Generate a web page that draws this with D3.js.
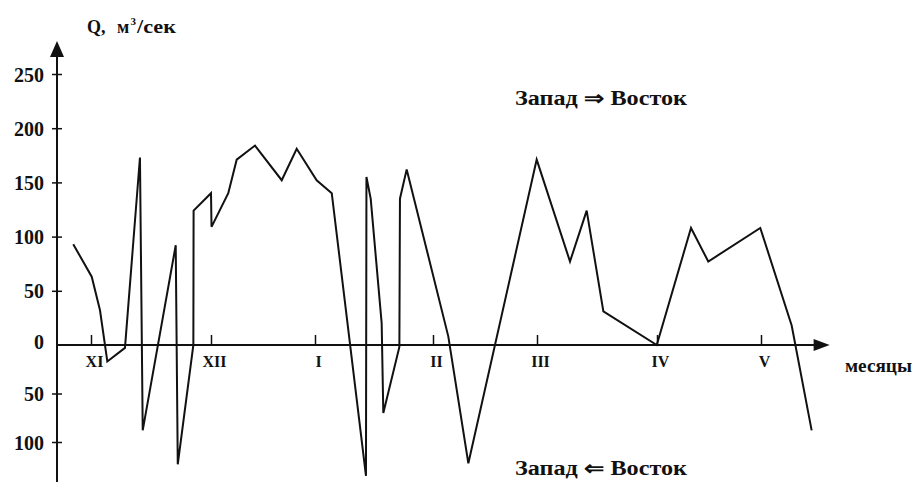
<!DOCTYPE html>
<html>
<head>
<meta charset="utf-8">
<script src="https://cdn.jsdelivr.net/npm/d3@7"></script>
<style>
	body { margin: 0; background: #fff; }
	svg { display: block; }
	text { font-family: "Liberation Serif", "Times New Roman", serif; font-weight: bold; fill: #111; }
</style>
</head>
<body>
<div id="chart"></div>
<script>
// month ticks (0 = XI ... 6 = V)
const months = ['XI', 'XII', 'I', 'II', 'III', 'IV', 'V'];
const yTicks = [-100, -50, 0, 50, 100, 150, 200, 250];

// position in months since XI, discharge Q (m3/s), positive = west to east
const tMonth = [
	-0.148, 0.006, 0.075, 0.136, 0.283, 0.408, 0.431, 0.706, 0.723, 0.853,
	0.855, 1.0, 1.005, 1.166, 1.247, 1.423, 1.680, 1.824, 2.014, 2.142,
	2.432, 2.436, 2.472, 2.565, 2.579, 2.715, 2.720, 2.777, 3.147, 3.340,
	3.997, 4.275, 4.414, 4.553, 4.998, 5.327, 5.493, 5.993, 6.295, 6.487
];
const qValue = [
	93, 63, 32, -17, -3, 173, -88, 92, -123, 0,
	124, 140, 109, 140, 171, 184, 152, 181, 152, 140,
	-135, 155, 135, 20, -70, -2, 135, 162, 8, -122,
	171, 77, 124, 31, 0, 108, 77, 108, 18, -88
];

const W = 917, H = 482;
const svg = d3.select('#chart').append('svg').attr('width', W).attr('height', H);

// month spacing on the drawing is not even, so the x scale is piecewise
const x = d3.scaleLinear().domain([0, 1, 2, 3, 4, 5, 6])
	.range([91, 211, 315, 433, 537, 657, 761]);
// the negative half is drawn a little tighter than the positive half
const y = d3.scaleLinear().domain([-100, 0, 250]).range([442, 345, 74]);

const x0 = 57;            // y axis position
const y0 = y(0);
const xEnd = x(6.66);     // arrow tip of the x axis

/* -------------------- axes lines + arrows ---------------------- */
svg.append('line')
	.attr('x1', x0).attr('x2', x0)
	.attr('y1', H).attr('y2', y(250) - 22)
	.attr('stroke', '#111').attr('stroke-width', 2);
svg.append('path')
	.attr('d', `M${x0},${y(250) - 33} L${x0 - 7},${y(250) - 17} L${x0 + 7},${y(250) - 17} Z`)
	.attr('fill', '#111');

svg.append('line')
	.attr('x1', x0).attr('x2', xEnd - 12)
	.attr('y1', y0).attr('y2', y0)
	.attr('stroke', '#111').attr('stroke-width', 2);
svg.append('path')
	.attr('d', `M${xEnd},${y0} L${xEnd - 16},${y0 - 6} L${xEnd - 16},${y0 + 6} Z`)
	.attr('fill', '#111');

/* -------------------- y axis ---------------------- */
const gy = svg.append('g')
	.attr('transform', `translate(${x0},0)`)
	.call(d3.axisLeft(y).tickValues(yTicks).tickFormat(d => Math.abs(d)).tickSize(5));
gy.select('.domain').remove();
gy.selectAll('.tick line').attr('x1', -5).attr('x2', 5).attr('stroke', '#111').attr('stroke-width', 1.5);
gy.selectAll('.tick text')
	.attr('x', -13).attr('dy', '0.35em')
	.style('font-size', '20px').style('font-family', '"Liberation Serif", serif')
	.style('font-weight', 'bold').attr('fill', '#111');
gy.selectAll('.tick').filter(d => d === 0).select('line').remove();
gy.selectAll('.tick').filter(d => d === 0).select('text').attr('y', -4);

/* -------------------- x axis ---------------------- */
const gx = svg.append('g')
	.attr('transform', `translate(0,${y0})`)
	.call(d3.axisBottom(x).tickValues(d3.range(months.length)).tickFormat(i => months[i]).tickSizeInner(-10).tickSizeOuter(0));
gx.select('.domain').remove();
gx.selectAll('.tick line').attr('stroke', '#111').attr('stroke-width', 1.5);
gx.selectAll('.tick text')
	.attr('y', 11).attr('dx', 3)
	.style('font-size', '16px').style('font-family', '"Liberation Serif", serif')
	.style('font-weight', 'bold').attr('fill', '#111');

/* -------------------- data line ---------------------- */
const pts = tMonth.map((t, i) => [t, qValue[i]]);
svg.append('path')
	.datum(pts)
	.attr('d', d3.line().x(d => x(d[0])).y(d => y(d[1])))
	.attr('fill', 'none')
	.attr('stroke', '#111')
	.attr('stroke-width', 2)
	.attr('stroke-linejoin', 'miter');

/* -------------------- labels ---------------------- */
svg.append('text').attr('x', 87).attr('y', 33).style('font-size', '18px').text('Q,');
svg.append('text').attr('x', 117).attr('y', 33).style('font-size', '18px').text('м');
svg.append('text').attr('x', 130.5).attr('y', 25).style('font-size', '11px').text('3');
svg.append('text').attr('x', 137).attr('y', 33).style('font-size', '18px')
	.attr('textLength', 39).attr('lengthAdjust', 'spacingAndGlyphs').text('/сек');

svg.append('text').attr('x', 845).attr('y', 372).style('font-size', '18px')
	.attr('textLength', 67).attr('lengthAdjust', 'spacingAndGlyphs').text('месяцы');
svg.append('text').attr('x', 515).attr('y', 105).style('font-size', '20px')
	.attr('textLength', 172).attr('lengthAdjust', 'spacingAndGlyphs').text('Запад ⇒ Восток');
svg.append('text').attr('x', 515).attr('y', 475).style('font-size', '20px')
	.attr('textLength', 172).attr('lengthAdjust', 'spacingAndGlyphs').text('Запад ⇐ Восток');
</script>
</body>
</html>
